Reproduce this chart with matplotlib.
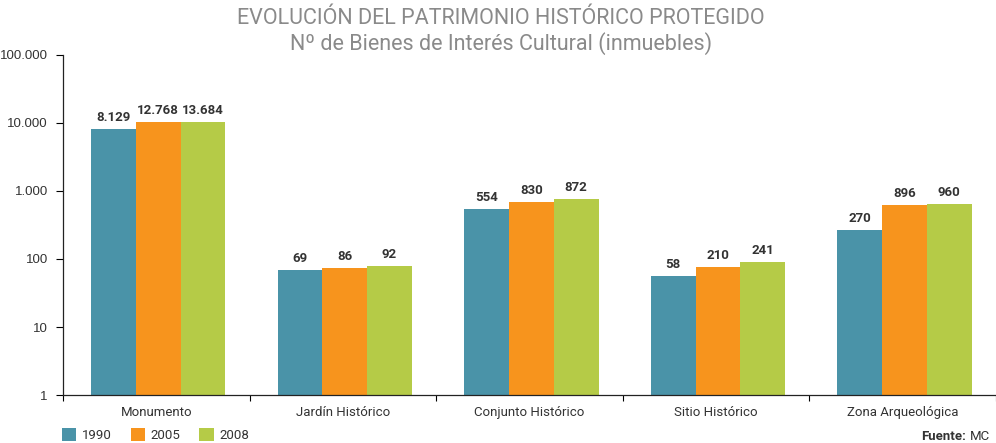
import numpy as np
import matplotlib
matplotlib.use("Agg")
import matplotlib.pyplot as plt
from matplotlib.patches import Patch

plt.rcParams['font.family'] = ['Roboto', 'DejaVu Sans']

categorias = ["Monumento", "Jardín Histórico", "Conjunto Histórico",
              "Sitio Histórico", "Zona Arqueológica"]
anios = ["1990", "2005", "2008"]

# valores que aparecen como etiqueta en el gráfico
etiq_1990 = [8129, 69, 554, 58, 270]
etiq_2005 = [12768, 86, 830, 210, 896]
etiq_2008 = [13684, 92, 872, 241, 960]

# altura a la que están dibujadas las barras en el original
alto_1990 = [8200, 69, 548, 57, 269]
alto_2005 = [10500, 74, 695, 77, 630]
alto_2008 = [10500, 80, 770, 91, 650]

colores = ["#4A93A8", "#F7941D", "#B5CB47"]

alturas = [alto_1990, alto_2005, alto_2008]
etiquetas = [etiq_1990, etiq_2005, etiq_2008]


def fmt(v):
    return f"{v:,}".replace(",", ".")


fig = plt.figure(figsize=(9.96, 4.43), dpi=100)
ax = fig.add_axes([63 / 996, 1 - 395 / 443, (996 - 63) / 996, (395 - 55) / 443])

x = np.arange(len(categorias))
ancho = 0.24
for i in range(3):
    pos = x + (i - 1) * ancho + 0.01
    ax.bar(pos, alturas[i], width=ancho, color=colores[i], bottom=0, zorder=2)
    for xi, h, v in zip(pos, alturas[i], etiquetas[i]):
        ax.annotate(fmt(v), (xi, h), xytext=(0, 8), textcoords="offset points",
                    ha="center", va="center", fontsize=9.5, fontweight="bold",
                    color="#333333")

ax.set_yscale("log")
ax.set_ylim(1, 100000)
ax.set_xlim(-0.5, len(categorias) - 0.5)

yt = [1, 10, 100, 1000, 10000, 100000]
ax.set_yticks(yt)
ax.set_yticklabels([fmt(v) for v in yt], fontfamily="Liberation Sans",
                   fontsize=9.5, color="#333333")
ax.yaxis.set_minor_locator(plt.NullLocator())
ax.tick_params(axis="y", direction="out", length=5, width=0.8, pad=6)

ax.set_xticks(np.arange(-0.5, len(categorias)))
ax.set_xticklabels([])
ax.tick_params(axis="x", which="major", direction="out", length=4, width=0.8)
ax.set_xticks(x, minor=True)
ax.set_xticklabels(categorias, minor=True, fontsize=9.5, color="#333333")
ax.tick_params(axis="x", which="minor", length=0, pad=8)

for s in ["top", "right"]:
    ax.spines[s].set_visible(False)
for s in ["left", "bottom"]:
    ax.spines[s].set_linewidth(0.9)
    ax.spines[s].set_color("#222222")

fig.text(0.503, 1 - 18 / 443, "EVOLUCIÓN DEL PATRIMONIO HISTÓRICO PROTEGIDO",
         ha="center", va="center", fontsize=15.5, color="#8A8A8A")
fig.text(0.503, 1 - 44 / 443, "Nº de Bienes de Interés Cultural (inmuebles)",
         ha="center", va="center", fontsize=15.5, color="#8A8A8A")

handles = [Patch(facecolor=c, edgecolor="none") for c in colores]
fig.legend(handles, anios, loc="center left", bbox_to_anchor=(50 / 996, 1 - 435 / 443),
           ncol=3, frameon=False, fontsize=9.5, handlelength=1.1, handleheight=1.1,
           handletextpad=0.4, columnspacing=1.45, labelcolor="#333333")

fig.text(0.994, 1 - 436 / 443, "MC", ha="right", va="center", fontsize=9.5,
         color="#333333")
fig.text(0.994 - 0.024, 1 - 436 / 443, "Fuente:", ha="right", va="center",
         fontsize=9.5, fontweight="bold", color="#333333")

fig.savefig("out.png", dpi=100)
